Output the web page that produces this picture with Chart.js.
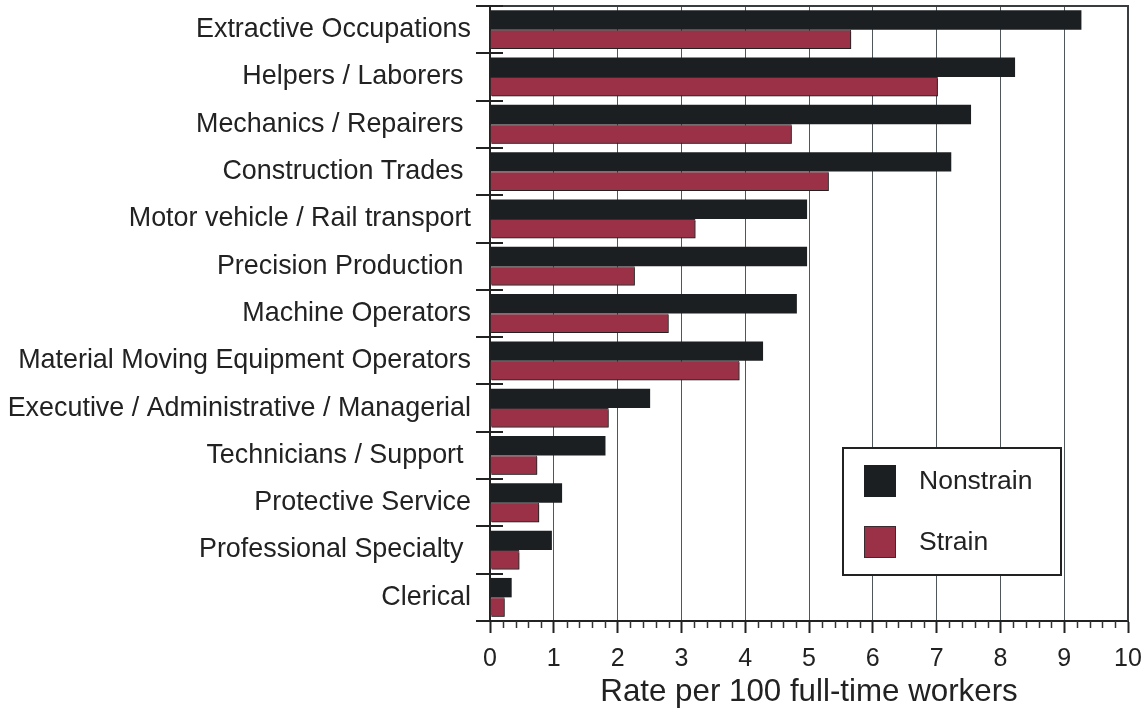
<!DOCTYPE html>
<html>
<head>
<meta charset="utf-8">
<script src="https://cdn.jsdelivr.net/npm/chart.js@4.4.1/dist/chart.umd.min.js"></script>
<style>
  html, body { margin: 0; padding: 0; background: #ffffff; }
  #wrap { width: 1148px; height: 715px; }
</style>
</head>
<body>
<div id="wrap"><canvas id="c" width="1148" height="715"></canvas></div>
<script>
const categories = [
  "Extractive Occupations",
  "Helpers / Laborers ",
  "Mechanics / Repairers ",
  "Construction Trades ",
  "Motor vehicle / Rail transport",
  "Precision Production ",
  "Machine Operators",
  "Material Moving Equipment Operators",
  "Executive / Administrative / Managerial",
  "Technicians / Support ",
  "Protective Service",
  "Professional Specialty ",
  "Clerical"
];
const nonstrain = [9.27, 8.23, 7.54, 7.23, 4.97, 4.97, 4.81, 4.28, 2.51, 1.81, 1.13, 0.97, 0.34];
const strain    = [5.66, 7.02, 4.73, 5.31, 3.22, 2.27, 2.80, 3.91, 1.86, 0.74, 0.77, 0.46, 0.23];
const seriesNames = ["Nonstrain", "Strain"];
const xTickMin = 0, xTickMax = 10, xTickStep = 1, xMinorStep = 0.2;
const xTitle = "Rate per 100 full-time workers";

const FONT = "'Liberation Sans', Arial, Helvetica, sans-serif";
const TEXT = "#222222";
const DARK = "#1c1f22";
const RED = "#9a3146";

const decor = {
  id: 'decor',
  beforeDatasetDraw(chart, args) {
    if (args.index === 1) {
      const ctx = chart.ctx;
      ctx.save();
      ctx.shadowColor = 'rgba(30,30,30,0.75)';
      ctx.shadowOffsetX = 1.5;
      ctx.shadowOffsetY = 1.5;
      ctx.shadowBlur = 0.5;
    }
  },
  afterDatasetDraw(chart, args) {
    if (args.index === 1) chart.ctx.restore();
  },
  afterDraw(chart) {
    const ctx = chart.ctx;
    const ca = chart.chartArea;
    const xs = chart.scales.x, ys = chart.scales.y;
    ctx.save();
    // frame top and right
    ctx.strokeStyle = '#3a3d40';
    ctx.lineWidth = 2;
    ctx.beginPath();
    ctx.moveTo(ca.left, ca.top);
    ctx.lineTo(ca.right, ca.top);
    ctx.lineTo(ca.right, ca.bottom);
    ctx.stroke();
    // category boundary ticks
    ctx.strokeStyle = '#222';
    ctx.lineWidth = 2;
    const n = categories.length;
    for (let i = 0; i <= n; i++) {
      const y = Math.round(ys.getPixelForValue(i - 0.5));
      ctx.beginPath();
      ctx.moveTo(ca.left - 14, y);
      ctx.lineTo(ca.left + 13, y);
      ctx.stroke();
    }
    // minor ticks on x axis
    ctx.lineWidth = 1.5;
    ctx.strokeStyle = '#333';
    const steps = Math.round((xTickMax - xTickMin) / xMinorStep);
    for (let k = 0; k <= steps; k++) {
      const v = xTickMin + k * xMinorStep;
      if (Math.abs(v - Math.round(v)) < 1e-6) continue;
      const x = Math.round(xs.getPixelForValue(v)) + 0.5;
      ctx.beginPath();
      ctx.moveTo(x, ca.bottom);
      ctx.lineTo(x, ca.bottom + 7);
      ctx.stroke();
    }
    // legend
    const lx = 843, ly = 448, lw = 218, lh = 127;
    ctx.fillStyle = '#fff';
    ctx.fillRect(lx, ly, lw, lh);
    ctx.strokeStyle = '#222';
    ctx.lineWidth = 2;
    ctx.strokeRect(lx, ly, lw, lh);
    const ds = chart.data.datasets;
    const rows = [465, 526];
    ds.forEach((d, i) => {
      const sy = rows[i];
      ctx.fillStyle = d.backgroundColor;
      ctx.fillRect(864, sy, 32, 32);
      if (i === 1) {
        ctx.strokeStyle = '#3b2a2f';
        ctx.lineWidth = 1;
        ctx.strokeRect(864.5, sy + 0.5, 31, 31);
      }
      ctx.fillStyle = TEXT;
      ctx.font = "26.5px " + FONT;
      ctx.textBaseline = 'middle';
      ctx.textAlign = 'left';
      ctx.fillText(d.label, 919, sy + 17);
    });
    ctx.restore();
  }
};

new Chart(document.getElementById('c'), {
  type: 'bar',
  data: {
    labels: categories,
    datasets: [
      { label: seriesNames[0], data: nonstrain, backgroundColor: DARK, borderWidth: 0 },
      { label: seriesNames[1], data: strain, backgroundColor: RED, borderColor: '#3b2a2f', borderWidth: 1 }
    ]
  },
  options: {
    indexAxis: 'y',
    responsive: false,
    animation: false,
    events: [],
    categoryPercentage: 0.82,
    barPercentage: 1.0,
    layout: { padding: { left: 0, right: 20, top: 6, bottom: 0 } },
    plugins: {
      legend: { display: false },
      tooltip: { enabled: false },
      title: { display: false }
    },
    scales: {
      x: {
        type: 'linear',
        min: xTickMin, max: xTickMax,
        ticks: { stepSize: xTickStep, color: TEXT, padding: 11, font: { family: FONT, size: 25 } },
        grid: { display: true, color: '#50575c', lineWidth: 1, drawTicks: true, tickLength: 12, tickColor: '#222', tickWidth: 2 },
        border: { display: true, color: '#222', width: 2 },
        title: { display: true, text: xTitle, color: TEXT, font: { family: FONT, size: 31.3 }, padding: { top: 0, bottom: 4 } },
        afterFit(scale) { scale.height = 94; scale.paddingLeft = 0; scale.paddingRight = 0; }
      },
      y: {
        type: 'category',
        ticks: { color: TEXT, padding: 19, font: { family: FONT, size: 26.9 } },
        grid: { display: false, drawTicks: false, tickLength: 0 },
        border: { display: true, color: '#222', width: 2 },
        afterFit(scale) { scale.width = 490; scale.paddingTop = 0; scale.paddingBottom = 0; }
      }
    }
  },
  plugins: [decor]
});
</script>
</body>
</html>
